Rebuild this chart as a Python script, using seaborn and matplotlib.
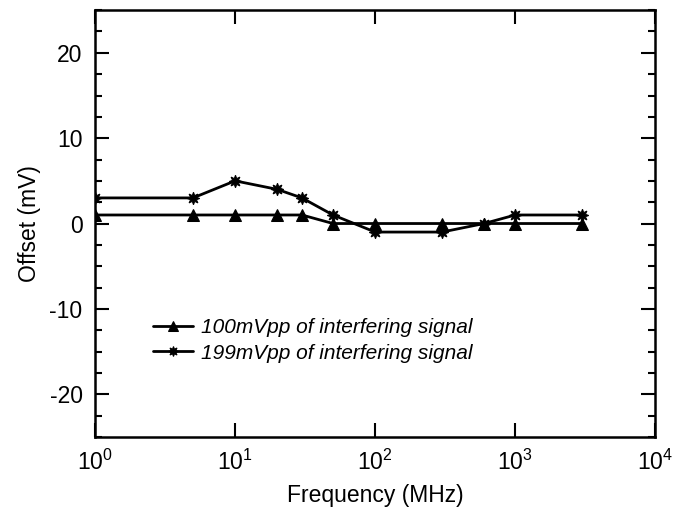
import numpy as np
import pandas as pd
import seaborn as sns
from matplotlib import pyplot as plt
from matplotlib.ticker import LogLocator, MultipleLocator, NullLocator

# dados
freq = [1, 5, 10, 20, 30, 50, 100, 300, 600, 1000, 3000]
offset_100 = [1, 1, 1, 1, 1, 0, 0, 0, 0, 0, 0]
offset_199 = [3, 3, 5, 4, 3, 1, -1, -1, 0, 1, 1]
nome_100 = "100mVpp of interfering signal"
nome_199 = "199mVpp of interfering signal"

dados = pd.concat([
    pd.DataFrame({"freq": freq, "offset": offset_100, "serie": nome_100}),
    pd.DataFrame({"freq": freq, "offset": offset_199, "serie": nome_199}),
])

sns.set_theme(style="ticks")
plt.rcParams['font.family'] = ['Liberation Sans', 'DejaVu Sans']
plt.rcParams['axes.unicode_minus'] = False
plt.rcParams['text.color'] = 'black'
plt.rcParams['axes.labelcolor'] = 'black'

fig, ax = plt.subplots(figsize=(6.89, 5.08), dpi=100)
fig.subplots_adjust(left=0.138, right=0.951, top=0.980, bottom=0.140)

sns.lineplot(data=dados, x="freq", y="offset", hue="serie", style="serie",
             palette=["black", "black"], markers={nome_100: "^", nome_199: (8, 1, 0)},
             dashes=False, markersize=9, markeredgecolor="black", linewidth=2, ax=ax)

ax.set_xscale("log")
ax.set_xlim(1, 1e4)
ax.set_ylim(-25, 25)
ax.xaxis.set_major_locator(LogLocator(base=10, numticks=10))
ax.xaxis.set_minor_locator(NullLocator())
ax.yaxis.set_major_locator(MultipleLocator(10))
ax.yaxis.set_minor_locator(MultipleLocator(2.5))
ax.tick_params(which="both", direction="in", top=True, right=True, width=1.5,
               labelsize=16.5, colors="black", pad=9)
ax.tick_params(which="major", length=10)
ax.tick_params(which="minor", length=5)
for s in ax.spines.values():
    s.set_linewidth(1.8)
    s.set_color("black")

ax.set_xlabel("Frequency (MHz)", fontsize=16.5, labelpad=7, color="black")
ax.set_ylabel("Offset (mV)", fontsize=16.5, labelpad=6, color="black")

leg = ax.legend(loc="lower left", bbox_to_anchor=(0.07, 0.13), frameon=False,
                fontsize=15, handlelength=1.9, handletextpad=0.4, labelspacing=0.3,
                markerscale=0.8)
for t in leg.get_texts():
    t.set_style("italic")
    t.set_color("black")

fig.savefig("out.png", dpi=100)
